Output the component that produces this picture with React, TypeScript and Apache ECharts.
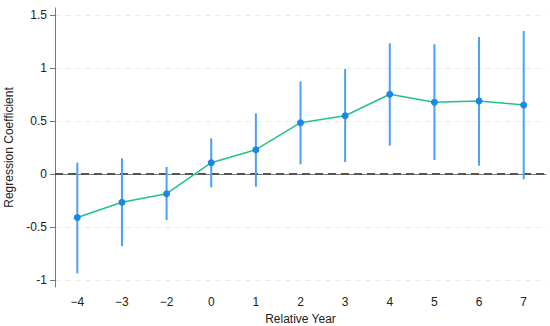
import React, { useEffect, useRef } from "react";
import * as echarts from "echarts";

const years = ["\u22124", "\u22123", "\u22122", "0", "1", "2", "3", "4", "5", "6", "7"];
const coef = [-0.41, -0.267, -0.186, 0.107, 0.229, 0.484, 0.55, 0.752, 0.676, 0.689, 0.651];
const ciLow = [-0.937, -0.68, -0.434, -0.126, -0.12, 0.091, 0.113, 0.267, 0.132, 0.078, -0.05];
const ciHigh = [0.107, 0.148, 0.066, 0.337, 0.572, 0.874, 0.99, 1.233, 1.224, 1.292, 1.349];
const yTicks = [-1, -0.5, 0, 0.5, 1, 1.5];

export default function App() {
  const ref = useRef<HTMLDivElement>(null);
  useEffect(() => {
    if (!ref.current) return;
    const chart = echarts.init(ref.current, null, { renderer: "svg" });
    const font = "'Liberation Sans', Arial, sans-serif";
    chart.setOption({
      animation: false,
      grid: { left: 55, right: 4, top: 8, bottom: 39, containLabel: false, outerBoundsMode: "none" },
      xAxis: {
        type: "category",
        data: years,
        boundaryGap: true,
        name: "Relative Year",
        nameLocation: "middle",
        nameGap: 24,
        nameTextStyle: { fontFamily: font, fontSize: 12, color: "#222" },
        axisLine: { lineStyle: { color: "#777", width: 1 } },
        axisTick: { alignWithLabel: true, length: 5, lineStyle: { color: "#777" } },
        axisLabel: { fontFamily: font, fontSize: 12, color: "#222", margin: 9 },
        splitLine: { show: false },
      },
      yAxis: {
        type: "value",
        min: -1.066,
        max: 1.566,
        name: "Regression Coefficient",
        nameLocation: "middle",
        nameGap: 39,
        nameTextStyle: { fontFamily: font, fontSize: 12, color: "#222" },
        axisLine: { show: true, lineStyle: { color: "#777", width: 1 } },
        axisTick: { show: true, length: 5, customValues: yTicks, lineStyle: { color: "#777" } },
        axisLabel: {
          fontFamily: font,
          fontSize: 12,
          color: "#222",
          margin: 8,
          customValues: yTicks,
          formatter: (v: number) => String(v),
        },
        splitLine: { show: true, lineStyle: { color: "#ebebeb", type: [6, 4], width: 1 } },
      },
      series: [
        {
          type: "custom",
          data: years.map((_, i) => [i, ciLow[i], ciHigh[i]]),
          renderItem: (params: any, api: any) => {
            const x = api.value(0);
            const p1 = api.coord([x, api.value(1)]);
            const p2 = api.coord([x, api.value(2)]);
            return {
              type: "line",
              shape: { x1: p1[0], y1: p1[1], x2: p2[0], y2: p2[1] },
              style: { stroke: "#4aa0f7", lineWidth: 2 },
            };
          },
          z: 2,
        },
        {
          type: "line",
          data: coef,
          symbol: "circle",
          symbolSize: 7,
          itemStyle: { color: "#1a87e6" },
          lineStyle: { color: "#25c08a", width: 1.5 },
          z: 3,
          markLine: {
            silent: true,
            symbol: "none",
            label: { show: false },
            lineStyle: { color: "#555", type: [8, 5], width: 2 },
            data: [{ yAxis: 0 }],
            z: 1,
          },
        },
      ],
    });
    return () => chart.dispose();
  }, []);
  return (
    <div
      ref={ref}
      style={{ position: "fixed", left: 0, top: 0, width: 550, height: 326, background: "#fff" }}
    />
  );
}
